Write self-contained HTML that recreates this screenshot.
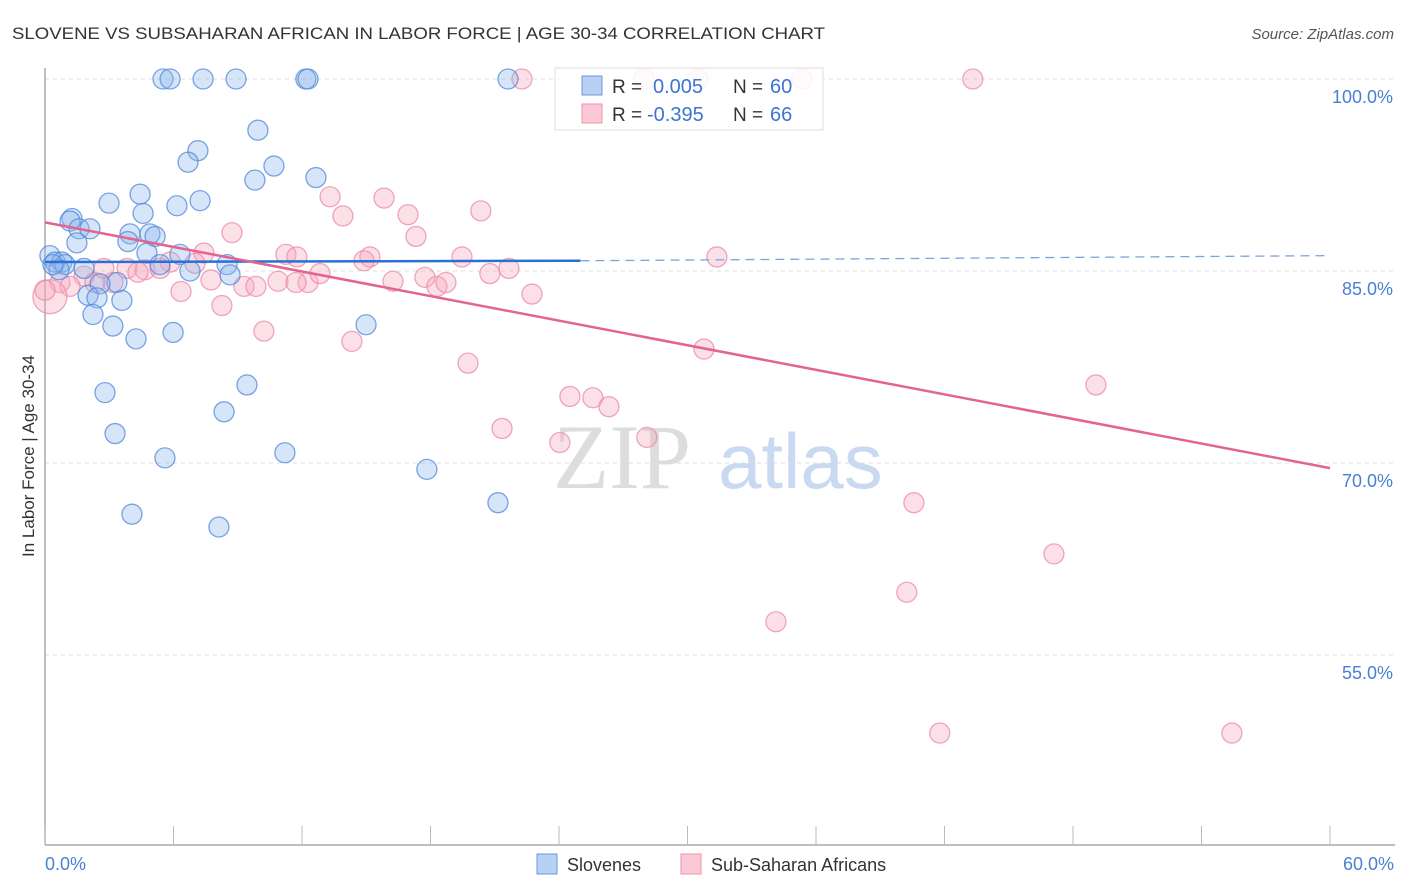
<!DOCTYPE html>
<html><head><meta charset="utf-8"><style>
html,body{margin:0;padding:0;background:#fff;}
svg{display:block;font-family:"Liberation Sans",sans-serif;}
</style></head><body>
<svg id="chart" width="1406" height="892" viewBox="0 0 1406 892" xmlns="http://www.w3.org/2000/svg">
<text x="12" y="39" font-size="17" fill="#333" textLength="813" lengthAdjust="spacingAndGlyphs">SLOVENE VS SUBSAHARAN AFRICAN IN LABOR FORCE | AGE 30-34 CORRELATION CHART</text>
<text x="1394" y="39" font-size="15" fill="#555" font-style="italic" text-anchor="end">Source: ZipAtlas.com</text>
<g>
<text x="553" y="488" font-size="92" fill="#ddd" font-family="Liberation Serif,serif">ZIP</text>
<text x="718" y="488" font-size="78" fill="#c9d9f2">atlas</text>
</g>
<g id="grid"></g>
<g id="axes"></g>
<g id="marks"></g>
<g id="trends"></g>
<text transform="translate(34,456) rotate(-90)" font-size="17" fill="#333" text-anchor="middle">In Labor Force | Age 30-34</text>
<text x="45" y="870" font-size="18" fill="#4a7fd6">0.0%</text>
<text x="1394" y="870" font-size="18" fill="#4a7fd6" text-anchor="end">60.0%</text>
<g>
<rect x="537" y="854" width="20" height="20" fill="#b8d0f3" stroke="#6a9ae0"/>
<text x="567" y="871" font-size="18" fill="#333">Slovenes</text>
<rect x="681" y="854" width="20" height="20" fill="#fbc8d6" stroke="#ec93ad"/>
<text x="711" y="871" font-size="18" fill="#333">Sub-Saharan Africans</text>
</g>
<g>
<rect x="555" y="68" width="268" height="62" fill="#fff" fill-opacity="0.85" stroke="#ddd"/>
<rect x="582" y="76" width="20" height="19" fill="#b8d0f3" stroke="#6a9ae0"/>
<rect x="582" y="104" width="20" height="19" fill="#fbc8d6" stroke="#ec93ad"/>
<text x="612" y="93" font-size="19" fill="#333">R = </text><text x="653" y="93" font-size="20" fill="#3b74d4">0.005</text>
<text x="733" y="93" font-size="19" fill="#333">N = </text><text x="770" y="93" font-size="20" fill="#3b74d4">60</text>
<text x="612" y="121" font-size="19" fill="#333">R = </text><text x="647" y="121" font-size="20" fill="#3b74d4">-0.395</text>
<text x="733" y="121" font-size="19" fill="#333">N = </text><text x="770" y="121" font-size="20" fill="#3b74d4">66</text>
</g>
</svg>
<script>
const yTicks=[100,85,70,55];
const yTickLabels=["100.0%","85.0%","70.0%","55.0%"];
const xTicks=[0,6,12,18,24,30,36,42,48,54,60];
const sloveneX=[5.51,5.84,7.38,8.92,12.18,12.28,21.62,9.94,7.14,6.68,10.69,9.80,12.65,4.44,2.99,7.24,6.16,4.58,1.26,1.17,1.59,2.10,3.97,3.87,4.90,5.14,1.49,6.30,4.76,0.23,0.47,0.79,0.93,1.82,5.37,6.77,8.50,8.64,3.36,2.57,2.01,2.43,3.59,2.24,3.17,5.98,4.25,14.99,2.80,9.43,8.36,3.27,5.60,11.20,17.83,21.15,4.06,8.12,0.65,0.37];
const sloveneY=[100,100,100,100,100,100,100,96.0,94.4,93.5,93.2,92.1,92.3,91.0,90.3,90.5,90.1,89.5,89.1,88.9,88.3,88.3,87.9,87.3,87.9,87.7,87.2,86.3,86.4,86.2,85.7,85.7,85.5,85.2,85.5,85.0,85.5,84.7,84.1,84.0,83.1,82.9,82.7,81.6,80.7,80.2,79.7,80.8,75.5,76.1,74.0,72.3,70.4,70.8,69.5,66.9,66.0,65.0,85.1,85.5];
const africanX=[22.27,27.97,30.49,35.34,43.32,13.31,15.83,20.35,13.91,16.95,8.73,17.32,11.25,11.76,7.42,15.17,19.47,31.37,14.89,5.84,3.83,4.67,5.37,2.75,1.82,0.70,1.17,0.23,3.17,7.75,9.29,9.85,10.88,12.28,12.84,16.25,17.74,18.30,18.72,20.77,21.66,22.74,6.35,8.26,10.22,14.33,19.75,30.77,24.51,25.58,26.33,49.07,21.34,24.04,28.10,40.57,47.11,40.24,34.13,41.78,55.42,7.00,2.33,4.34,11.72,0.0];
const africanY=[100,100,100,100,100,90.8,90.7,89.7,89.3,89.4,88.0,87.7,86.3,86.1,86.4,86.1,86.1,86.1,85.8,85.7,85.2,85.1,85.2,85.2,84.6,84.1,83.8,83.0,84.1,84.3,83.8,83.8,84.2,84.1,84.8,84.2,84.5,83.8,84.1,84.8,85.2,83.2,83.4,82.3,80.3,79.5,77.8,78.9,75.2,75.1,74.4,76.1,72.7,71.6,72.0,66.9,62.9,59.9,57.6,48.9,48.9,85.6,84.1,84.9,84.1,83.5];
const africanBigIndex=27;
const sloveneTrend=[[0,85.7],[25,85.8],[60,86.2]];
const africanTrend=[[0,88.8],[60,69.6]];
const NS="http://www.w3.org/2000/svg";
const X0=45,X1=1330,Y100=79,PX_PER=12.8;
const xs=v=>X0+(X1-X0)*v/60;
const ys=v=>Y100+(100-v)*PX_PER;
function mk(tag,attrs,parent){const e=document.createElementNS(NS,tag);for(const k in attrs)e.setAttribute(k,attrs[k]);parent.appendChild(e);return e;}
const grid=document.getElementById('grid'),axes=document.getElementById('axes'),marks=document.getElementById('marks'),trends=document.getElementById('trends');
yTicks.forEach((t,i)=>{
 const l=mk('line',{x1:45,x2:1395,y1:ys(t),y2:ys(t),stroke:'#ddd','stroke-dasharray':'4,4'},grid);
 
 
 const tx=mk('text',{x:1393,y:ys(t)+24,'font-size':18,fill:'#4a7fd6','text-anchor':'end'},grid);
 tx.textContent=yTickLabels[i];
 
 
});
const ya=mk('line',{x1:45,x2:45,y1:68,y2:845,stroke:'#aaa','stroke-width':1.5},axes);


const xa=mk('line',{x1:45,x2:1395,y1:845,y2:845,stroke:'#aaa','stroke-width':1.5},axes);


xTicks.forEach(t=>{
 const l=mk('line',{x1:xs(t),x2:xs(t),y1:826,y2:845,stroke:'#bbb'},axes);
 
 
});
function dots(X,Y,fill,stroke,name,bigIdx){
 X.forEach((x,i)=>{
  const big=(i===bigIdx);
  const c=mk('circle',{cx:xs(x),cy:ys(Y[i]),r:big?17:10,fill:fill,'fill-opacity':0.35,stroke:stroke,'stroke-opacity':0.75,'stroke-width':1.3},marks);
  
  
 });
}
dots(africanX,africanY,'#f5a5bd','#e88aa7','african-point',africanBigIndex);
dots(sloveneX,sloveneY,'#8db4ec','#4f87db','slovene-point',-1);
const bs=mk('line',{x1:xs(sloveneTrend[0][0]),y1:ys(sloveneTrend[0][1]),x2:xs(sloveneTrend[1][0]),y2:ys(sloveneTrend[1][1]),stroke:'#2a6fd6','stroke-width':2.5},trends);


const bd=mk('line',{x1:xs(sloveneTrend[1][0]),y1:ys(sloveneTrend[1][1]),x2:xs(sloveneTrend[2][0]),y2:ys(sloveneTrend[2][1]),stroke:'#7aa3e0','stroke-width':1.3,'stroke-dasharray':'9,6'},trends);


const pt=mk('line',{x1:xs(africanTrend[0][0]),y1:ys(africanTrend[0][1]),x2:xs(africanTrend[1][0]),y2:ys(africanTrend[1][1]),stroke:'#e2648f','stroke-width':2.5},trends);


</script>
</body></html>
